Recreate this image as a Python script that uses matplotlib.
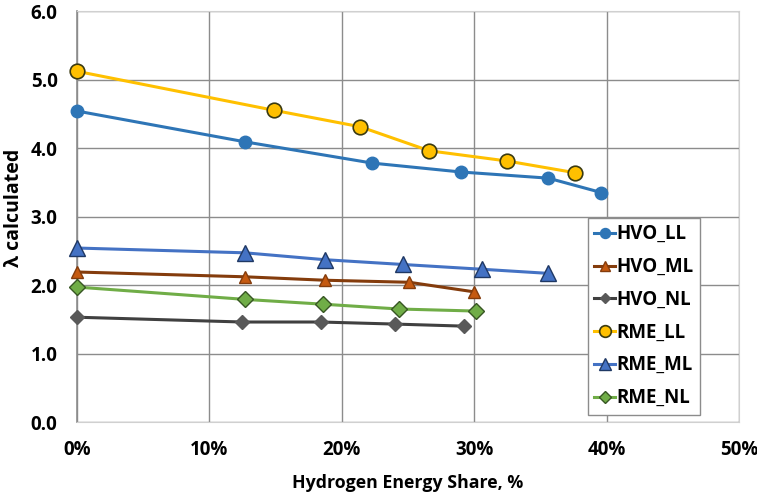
import matplotlib
matplotlib.use('Agg')
import matplotlib.pyplot as plt
from matplotlib.ticker import FuncFormatter

plt.rcParams['font.family'] = ['Open Sans', 'DejaVu Sans']
plt.rcParams['font.weight'] = 'bold'

# hydrogen energy share (%) and lambda values
hvo_ll_x = [0.0, 12.7, 22.3, 29.0, 35.6, 39.6]
hvo_ll_y = [4.54, 4.09, 3.78, 3.65, 3.56, 3.35]
hvo_ml_x = [0.0, 12.7, 18.7, 25.1, 30.0]
hvo_ml_y = [2.19, 2.12, 2.07, 2.04, 1.90]
hvo_nl_x = [0.0, 12.5, 18.4, 24.0, 29.2]
hvo_nl_y = [1.53, 1.46, 1.46, 1.43, 1.40]
rme_ll_x = [0.0, 14.9, 21.4, 26.6, 32.5, 37.6]
rme_ll_y = [5.12, 4.55, 4.31, 3.96, 3.81, 3.64]
rme_ml_x = [0.0, 12.7, 18.7, 24.6, 30.6, 35.6]
rme_ml_y = [2.54, 2.47, 2.37, 2.30, 2.23, 2.17]
rme_nl_x = [0.0, 12.7, 18.6, 24.3, 30.1]
rme_nl_y = [1.97, 1.79, 1.72, 1.65, 1.62]

x_ticks = [0, 10, 20, 30, 40, 50]
y_ticks = [0, 1, 2, 3, 4, 5, 6]

fig = plt.figure(figsize=(7.57, 4.94), dpi=100)
ax = fig.add_axes([0.1017, 0.1457, 0.8745, 0.832])

ax.plot(hvo_ll_x, hvo_ll_y, color='#2e75b6', lw=2.2, marker='o', ms=9,
        mfc='#2e75b6', mec='#2e75b6', label='HVO_LL', zorder=5, clip_on=False)
ax.plot(hvo_ml_x, hvo_ml_y, color='#843c0c', lw=2.2, marker='^', ms=9,
        mfc='#c55a11', mec='#843c0c', label='HVO_ML', zorder=5, clip_on=False)
ax.plot(hvo_nl_x, hvo_nl_y, color='#404040', lw=2.2, marker='D', ms=7,
        mfc='#595959', mec='#595959', label='HVO_NL', zorder=5, clip_on=False)
ax.plot(rme_ll_x, rme_ll_y, color='#ffc000', lw=2.2, marker='o', ms=10.5,
        mfc='#ffc000', mec='#3a3a10', mew=1.2, label='RME_LL', zorder=5, clip_on=False)
ax.plot(rme_ml_x, rme_ml_y, color='#4472c4', lw=2.2, marker='^', ms=11,
        mfc='#4472c4', mec='#1f3864', mew=1.0, label='RME_ML', zorder=5, clip_on=False)
ax.plot(rme_nl_x, rme_nl_y, color='#70ad47', lw=2.2, marker='D', ms=8,
        mfc='#70ad47', mec='#375623', mew=1.0, label='RME_NL', zorder=5, clip_on=False)

ax.set_xlim(0, 50)
ax.set_ylim(0, 6)
ax.set_xticks(x_ticks)
ax.set_yticks(y_ticks)
ax.xaxis.set_major_formatter(FuncFormatter(lambda v, p: f'{v:.0f}%'))
ax.yaxis.set_major_formatter(FuncFormatter(lambda v, p: f'{v:.1f}'))
ax.grid(True, color='#8c8c8c', lw=1.0)
ax.set_axisbelow(True)
ax.tick_params(axis='x', length=0, labelsize=13.5, pad=13)
ax.tick_params(axis='y', length=0, labelsize=13.5, pad=14)
for lab in ax.get_xticklabels() + ax.get_yticklabels():
    lab.set_fontweight('bold')

for side in ['top', 'right', 'bottom']:
    ax.spines[side].set_color('#d0d0d0')
ax.spines['left'].set_color('#8c8c8c')
ax.spines['left'].set_linewidth(1.2)

ax.set_xlabel('Hydrogen Energy Share, %', fontsize=12.8, fontweight='bold', labelpad=10)
ax.set_ylabel('λ calculated', fontsize=14, fontweight='bold')
ax.yaxis.set_label_coords(-0.080, 0.52)

leg = ax.legend(loc='upper left', bbox_to_anchor=(0.7715, 0.497), fontsize=13.5,
                frameon=True, fancybox=False, handlelength=1.1, handletextpad=0.1,
                borderpad=0.35, labelspacing=0.68, borderaxespad=0, markerscale=0.8)
leg.get_frame().set_edgecolor('#8c8c8c')
leg.get_frame().set_linewidth(1.0)
leg.get_frame().set_alpha(1.0)
for t in leg.get_texts():
    t.set_fontweight('bold')

fig.savefig('out.png', dpi=100)
